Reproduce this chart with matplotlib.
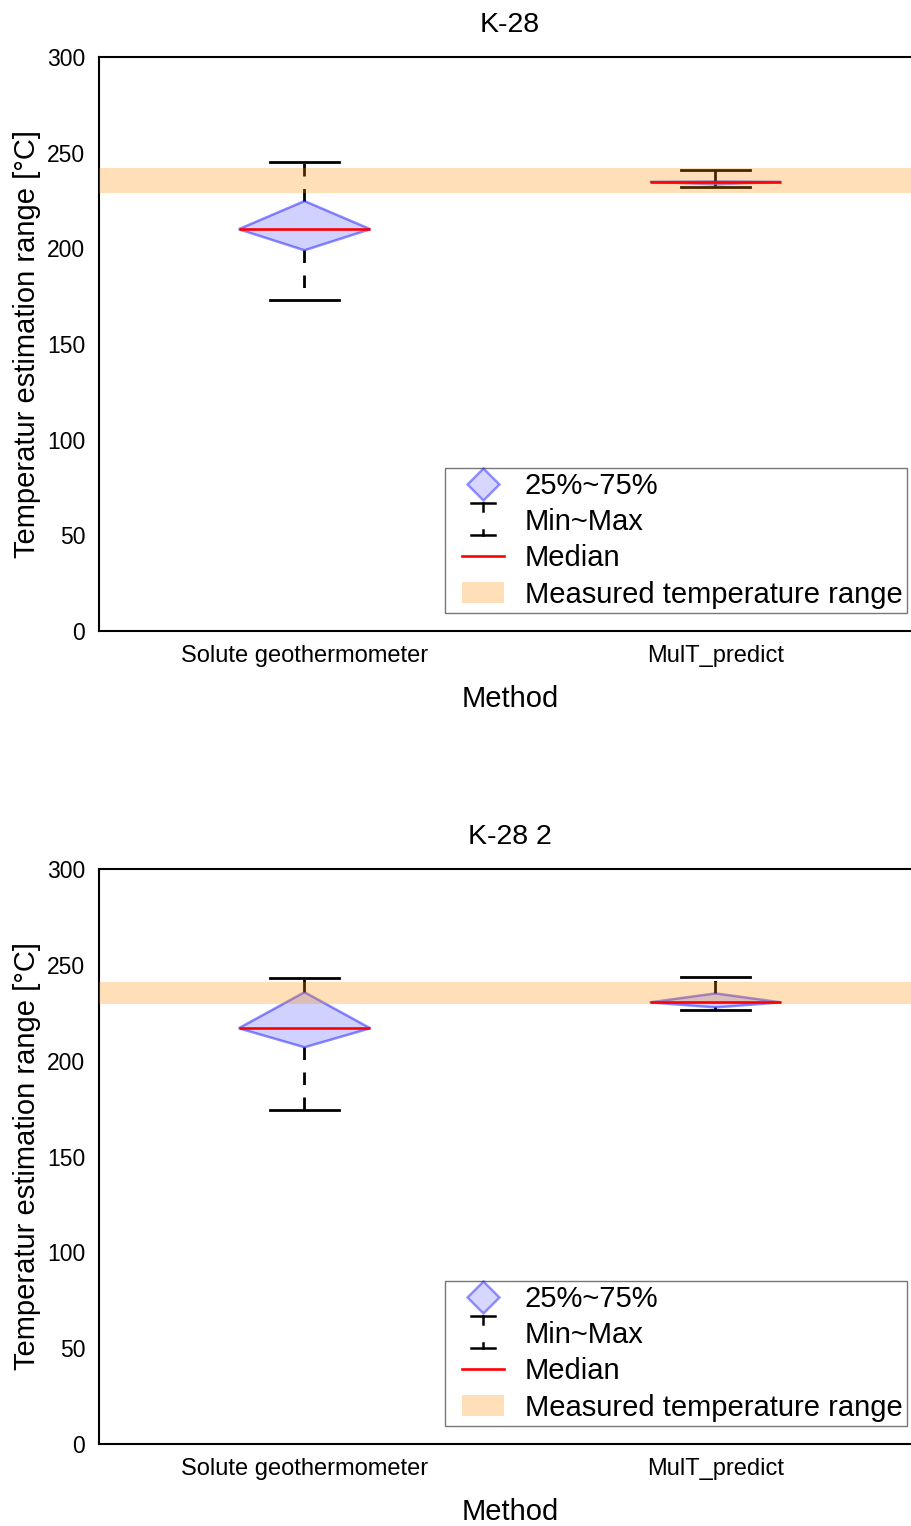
import matplotlib
matplotlib.use("Agg")
import matplotlib.pyplot as plt
from matplotlib.patches import Polygon, Patch
from matplotlib.lines import Line2D
from matplotlib.legend_handler import HandlerBase, HandlerLine2D, HandlerPatch

plt.rcParams['font.family'] = ['Liberation Sans', 'DejaVu Sans']

# ---- data -------------------------------------------------------------
methods = ["Solute geothermometer", "MulT_predict"]
titles = ["K-28", "K-28 2"]
t_min = [[173.0, 232.2], [174.3, 226.4]]
t_q1 = [[199.0, 233.4], [207.0, 227.8]]
t_median = [[210.0, 234.8], [216.9, 230.4]]
t_q3 = [[224.7, 235.0], [235.7, 235.1]]
t_max = [[245.1, 240.9], [243.1, 243.5]]
measured_low = [229.0, 229.4]
measured_high = [242.0, 240.9]
y_ticks = [0, 50, 100, 150, 200, 250, 300]

LEG_XPAD = 0.43


class MinMaxHandler(HandlerBase):
    """Legend glyph: a top cap with a short stem and a bottom cap with a short stem."""
    def create_artists(self, legend, orig_handle, xdescent, ydescent,
                       width, height, fontsize, trans):
        cx = width / 2 - xdescent
        cy = height / 2 - ydescent
        hw = 8.6
        top = cy + 12.2
        bot = cy - 10.8
        arts = [
            Line2D([cx - hw, cx + hw], [top, top], color='black', lw=1.8),
            Line2D([cx, cx], [top, top - 5.8], color='black', lw=1.8),
            Line2D([cx - hw, cx + hw], [bot, bot], color='black', lw=1.8),
            Line2D([cx, cx], [bot, bot + 3.6], color='black', lw=1.8),
        ]
        for a in arts:
            a.set_transform(trans)
        return arts


fig = plt.figure(figsize=(9.12, 15.26), dpi=100)
W, H = 912.0, 1526.0
axes_px = [(57, 631), (869, 1444)]

half_w = 0.16
cap_w = 0.085
positions = [1, 2]

for k, (top_px, bot_px) in enumerate(axes_px):
    ax = fig.add_axes([99 / W, 1 - bot_px / H, 822 / W, (bot_px - top_px) / H])
    ax.set_xlim(0.5, 2.5)
    ax.set_ylim(0, 300)

    for i, x in enumerate(positions):
        lo, q1, med, q3, hi = (t_min[k][i], t_q1[k][i], t_median[k][i],
                               t_q3[k][i], t_max[k][i])
        # whiskers
        ax.plot([x, x], [q3, hi], color='black', lw=2,
                linestyle=(0, (4.5, 4.5)), zorder=2)
        ax.plot([x, x], [q1, lo], color='black', lw=2,
                linestyle=(0, (4.5, 4.5)), zorder=2)
        # caps
        ax.plot([x - cap_w, x + cap_w], [hi, hi], color='black', lw=2, zorder=2)
        ax.plot([x - cap_w, x + cap_w], [lo, lo], color='black', lw=2, zorder=2)
        # interquartile diamond
        diamond = Polygon([[x - half_w, med], [x, q3], [x + half_w, med], [x, q1]],
                          closed=True, facecolor=(0, 0, 1, 0.18),
                          edgecolor=(0, 0, 1, 0.45), lw=1.8, zorder=3)
        ax.add_patch(diamond)

    # measured temperature band
    ax.axhspan(measured_low[k], measured_high[k], facecolor='darkorange',
               alpha=0.28, edgecolor='none', zorder=4)

    for i, x in enumerate(positions):
        ax.plot([x - half_w, x + half_w], [t_median[k][i]] * 2, color='red',
                lw=1.9, zorder=5, solid_capstyle='butt')

    ax.set_xticks(positions)
    ax.set_xticklabels(methods, fontsize=17)
    ax.set_yticks(y_ticks)
    ax.set_yticklabels([str(v) for v in y_ticks], fontsize=16.5)
    ax.tick_params(length=0, pad=10)
    for s in ax.spines.values():
        s.set_linewidth(1.5)
    ax.set_title(titles[k], fontsize=20.5, pad=18)
    ax.set_xlabel("Method", fontsize=21, labelpad=13)
    ax.set_ylabel("Temperatur estimation range [°C]", fontsize=21, labelpad=4)

    diamond_h = Line2D([], [], linestyle='none', marker='D', markersize=16,
                       markerfacecolor=(0, 0, 1, 0.16),
                       markeredgecolor=(0, 0, 1, 0.4), markeredgewidth=1.8)
    median_h = Line2D([], [], color='red', lw=1.9)
    band_h = Patch(facecolor='darkorange', alpha=0.28, edgecolor='none')
    handles = [diamond_h, 'minmax', median_h, band_h]
    labels = ["25%~75%", "Min~Max", "Median", "Measured temperature range"]
    leg = ax.legend(handles, labels, loc='lower right',
                    bbox_to_anchor=(907 / W, 1 - (bot_px - 18) / H),
                    bbox_transform=fig.transFigure, borderaxespad=0,
                    fontsize=21, frameon=True, fancybox=False,
                    handlelength=1.45 + LEG_XPAD, handletextpad=0.72,
                    labelspacing=0.28, borderpad=0.15,
                    handler_map={
                        str: MinMaxHandler(xpad=LEG_XPAD),
                        diamond_h: HandlerLine2D(xpad=LEG_XPAD),
                        median_h: HandlerLine2D(xpad=LEG_XPAD),
                        band_h: HandlerPatch(xpad=LEG_XPAD),
                    })
    leg.get_frame().set_edgecolor('#555555')
    leg.get_frame().set_linewidth(1.0)

fig.savefig("out.png", dpi=100)
